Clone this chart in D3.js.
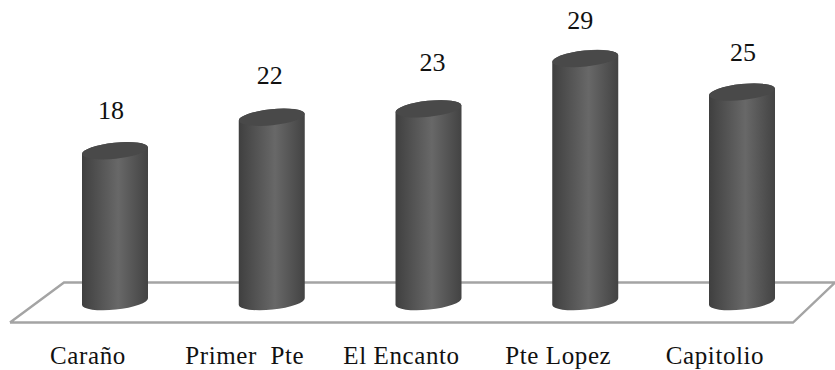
<!DOCTYPE html>
<html>
<head>
<meta charset="utf-8">
<script src="https://cdnjs.cloudflare.com/ajax/libs/d3/7.8.5/d3.min.js"></script>
<style>
body { margin: 0; background: #fff; }
text { font-family: "Liberation Serif", serif; fill: #111; white-space: pre; }
</style>
</head>
<body>
<div id="chart"></div>
<script>
var categories = ["Caraño", "Primer  Pte", "El Encanto", "Pte Lopez", "Capitolio"];
var values = [18, 22, 23, 29, 25];
// small hand nudges so the numbers don't sit dead centre
var labelDx = [-4, -2, 4, -5, 1];
var labelDy = [0, -2, -6, 2, 0];

var width = 835;
var height = 370;
var rx = 33;
var ry = 8;
var tilt = 6;
var barWidth = 66;

var svg = d3.select("#chart")
    .append("svg")
    .attr("width", width)
    .attr("height", height)
    .style("display", "block");

var x = d3.scalePoint()
    .domain(categories)
    .range([115, 742]);

var y = d3.scaleLinear()
    .domain([0, 29])
    .range([305, 62]);

var defs = svg.append("defs");

var grad = defs.append("linearGradient")
    .attr("id", "side")
    .attr("x1", "0")
    .attr("x2", "1")
    .attr("y1", "0")
    .attr("y2", "0");

[[0, "#3f3f3f"], [0.1, "#474747"], [0.55, "#686868"], [0.9, "#4b4b4b"], [1, "#434343"]].forEach(function (s) {
    grad.append("stop")
        .attr("offset", s[0])
        .attr("stop-color", s[1]);
});

// floor
svg.append("path")
    .attr("d", "M10,322.5 L64,282.5 L835,282.5 M835,282.5 L793,322.5 L10,322.5")
    .attr("fill", "none")
    .attr("stroke", "#a4a4a4")
    .attr("stroke-width", 2.4);

var rad = tilt * Math.PI / 180;
var ex = barWidth / 2;
var ey = ex * Math.sin(rad);

var bars = svg.selectAll(".bar")
    .data(values)
    .enter()
    .append("g")
    .attr("class", "bar");

// cylinder body, the lower edge is the front half of the base ellipse
bars.append("path")
    .attr("fill", "url(#side)")
    .attr("d", function (d, i) {
        var cx = x(categories[i]);
        var l = cx - ex;
        var r = cx + ex;
        return "M" + l + "," + y(d) +
            " L" + l + "," + y(0) +
            " A" + rx + "," + ry + " " + (-tilt) + " 0 0 " + r + "," + (y(0) - 2 * ey) +
            " L" + r + "," + (y(d) - 2 * ey) +
            " A" + rx + "," + ry + " " + (-tilt) + " 0 0 " + l + "," + y(d) + " Z";
    });

bars.append("ellipse")
    .attr("rx", rx)
    .attr("ry", ry)
    .attr("fill", "#494949")
    .attr("transform", function (d, i) {
        return "translate(" + x(categories[i]) + "," + (y(d) - ey) + ") rotate(" + (-tilt) + ")";
    });

svg.selectAll(".value")
    .data(values)
    .enter()
    .append("text")
    .attr("class", "value")
    .attr("x", function (d, i) { return x(categories[i]) + labelDx[i]; })
    .attr("y", function (d, i) { return y(d) - 35 + labelDy[i]; })
    .attr("text-anchor", "middle")
    .attr("font-size", 26)
    .text(function (d) { return d; });

svg.selectAll(".cat")
    .data(categories)
    .enter()
    .append("text")
    .attr("class", "cat")
    .attr("x", function (d) { return x(d) - 27; })
    .attr("y", 364)
    .attr("text-anchor", "middle")
    .attr("font-size", 25)
    .attr("letter-spacing", 0.6)
    .text(function (d) { return d; });
</script>
</body>
</html>
